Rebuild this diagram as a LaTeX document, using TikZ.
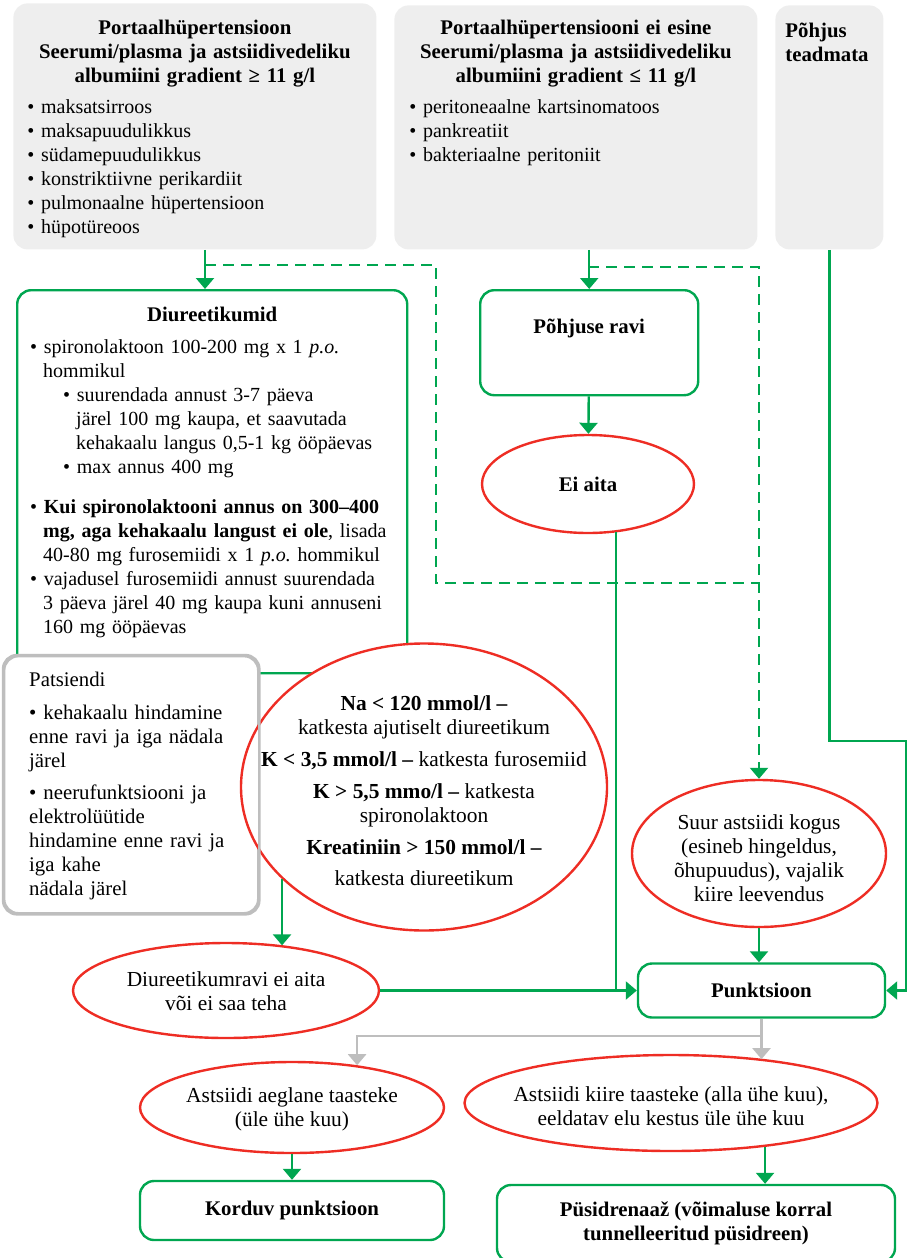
\documentclass[tikz,border=0pt]{standalone}
\usepackage{fontspec}
\setmainfont{Liberation Serif}
\usetikzlibrary{arrows.meta,shapes.geometric}
\frenchspacing

\definecolor{flowgreen}{HTML}{00A650}
\definecolor{flowred}{HTML}{EE2D24}
\definecolor{causefill}{HTML}{EEEEEE}
\definecolor{framegrey}{HTML}{BEBEBE}

\newcommand{\headfont}{\fontsize{10.4}{12}\selectfont\bfseries}
\newcommand{\bitem}[2][0pt]{\par\hangindent=\dimexpr#1+6.5pt\relax\hangafter=1 %
  \noindent\hspace*{#1}•\ #2\par}

\tikzset{
  every node/.style={font=\fontsize{10}{12}\selectfont},
  boldtext/.style={font=\headfont},
  cause/.style={fill=causefill, rounded corners=7pt, anchor=north west,
    align=left, inner ysep=0pt},
  advice/.style={draw=flowgreen, line width=1.2pt, rounded corners=7pt,
    fill=white},
  monitorbox/.style={draw=framegrey, line width=1.2pt, rounded corners=7pt,
    fill=white, anchor=north west, align=left, inner ysep=0pt,
    font=\fontsize{10.4}{12}\selectfont},
  warn/.style={ellipse, draw=flowred, line width=1.2pt, fill=white,
    inner sep=0pt},
  warntext/.style={align=center, inner sep=0pt,
    font=\fontsize{10.7}{12}\selectfont},
  flow/.style={draw=flowgreen, line width=1.2pt},
  arr/.style={flow, -{Triangle[width=9pt,length=5.5pt]}},
  dashflow/.style={flow, dash pattern=on 5.5pt off 3.5pt},
  greyarr/.style={draw=framegrey, line width=1.2pt,
    -{Triangle[width=9pt,length=5.5pt]}},
}

\begin{document}
\begin{tikzpicture}[x=0.5pt, y=-0.5pt]

  \useasboundingbox (0,0) rectangle (908,1258); %

  % Causes of ascites
  \node[cause, text width=167.5pt, inner xsep=7pt, text height=15.3pt,
    text depth=107.7pt] (portal) at (13,3) {%
    {\centering\headfont Portaalhüpertensioon\\
      Seerumi/plasma ja astsiidivedeliku\\
      albumiini gradient ≥ 11 g/l\par}\vspace{3.5pt}%
    • maksatsirroos\\ • maksapuudulikkus\\ • südamepuudulikkus\\
    • konstriktiivne perikardiit\\ • pulmonaalne hüpertensioon\\
    • hüpotüreoos}; %
  \node[cause, text width=166.5pt, inner xsep=7.5pt, text height=14.3pt,
    text depth=107.7pt] (noportal) at (394,5) {%
    {\centering\headfont Portaalhüpertensiooni ei esine\\
      Seerumi/plasma ja astsiidivedeliku\\
      albumiini gradient ≤ 11 g/l\par}\vspace{3.5pt}%
    • peritoneaalne kartsinomatoos\\ • pankreatiit\\
    • bakteriaalne peritoniit}; %
  \node[cause, text width=44pt, inner xsep=5pt, text height=16pt,
    text depth=106pt] (unknown) at (775,5) {\headfont Põhjus\\ teadmata}; %

  % Treatment
  \node[advice, anchor=north west, align=left, text width=182pt,
    inner xsep=6.5pt, inner ysep=0pt, text height=15.5pt, text depth=176pt]
    (diur) at (16,289) {%
    {\centering\headfont Diureetikumid\par}\vspace{4pt}%
    \bitem{spironolaktoon 100-200 mg x 1 \textit{p.o.}\newline hommikul}
    \bitem[16.5pt]{suurendada annust 3-7 päeva\newline
      järel 100 mg kaupa, et saavutada\newline
      kehakaalu langus 0,5-1 kg ööpäevas}
    \bitem[16.5pt]{max annus 400 mg}
    \vspace{8pt}%
    \bitem{\textbf{Kui spironolaktooni annus on 300–400\newline
      mg, aga kehakaalu langust ei ole}, lisada\newline
      40-80 mg furosemiidi x 1 \textit{p.o.} hommikul}
    \bitem{vajadusel furosemiidi annust suurendada\newline
      3 päeva järel 40 mg kaupa kuni annuseni\newline
      160 mg ööpäevas}}; %
  \node[advice, boldtext, anchor=north west, minimum width=109pt,
    inner sep=0pt, text height=21.5pt, text depth=31pt]
    (treat) at (479,289) {Põhjuse ravi}; %
  \node[warn, minimum width=106pt, minimum height=49pt,
    label={[warntext, boldtext]center:{Ei aita}}] (noeffect) at (588,484) {}; %

  % Monitoring and limits
  \node[monitorbox, text width=102pt, inner xsep=12.5pt, text height=15pt,
    text depth=113.5pt] (monitor) at (3,655) {%
    Patsiendi\par\vspace{4.5pt}%
    • kehakaalu hindamine\\ enne ravi ja iga nädala\\ järel\par\vspace{4pt}%
    • neerufunktsiooni ja\\ elektrolüütide\\ hindamine enne ravi ja\\
    iga kahe\\ nädala järel}; %
  \node[warn, minimum width=183pt, minimum height=143.5pt,
    label={[warntext, yshift=-2pt]center:{%
      \textbf{Na < 120 mmol/l –}\\ katkesta ajutiselt diureetikum\\[4pt]
      \textbf{K < 3,5 mmol/l –} katkesta furosemiid\\[4pt]
      \textbf{K > 5,5 mmo/l –} katkesta\\ spironolaktoon\\[4pt]
      \textbf{Kreatiniin > 150 mmol/l –}\\[3.5pt] katkesta diureetikum}}]
    (limits) at (424,787) {}; %
  \draw[draw=framegrey, line width=1.2pt, rounded corners=7pt]
    (monitor.north west) rectangle (monitor.south east); %

  % Paracentesis
  \node[warn, minimum width=127pt, minimum height=73.5pt,
    label={[warntext, yshift=-2.5pt]center:{Suur astsiidi kogus\\
      (esineb hingeldus,\\ õhupuudus), vajalik\\ kiire leevendus}}]
    (large) at (759,853.5) {}; %
  \node[warn, minimum width=153pt, minimum height=47.5pt,
    label={[warntext, yshift=-0.5pt]center:{Diureetikumravi ei aita\\
      või ei saa teha}}]
    (drfail) at (226,990.5) {}; %
  \node[advice, boldtext, minimum width=123.5pt, minimum height=27pt]
    (punct) at (761.5,990.5) {Punktsioon}; %

  % Outcome
  \node[warn, minimum width=152pt, minimum height=45.5pt,
    label={[warntext, yshift=-1pt]center:{Astsiidi aeglane taasteke\\
      (üle ühe kuu)}}]
    (slow) at (292,1107.5) {}; %
  \node[warn, minimum width=206.5pt, minimum height=48pt,
    label={[warntext, yshift=-1.5pt]center:{Astsiidi kiire taasteke (alla ühe kuu),\\
      eeldatav elu kestus üle ühe kuu}}]
    (fast) at (671,1103) {}; %
  \node[advice, boldtext, minimum width=152pt, minimum height=29.5pt]
    (redo) at (292,1210.5) {Korduv punktsioon}; %
  \node[advice, boldtext, minimum width=199pt, minimum height=38.5pt,
    align=center] (drain) at (696,1223.5)
    {Püsidrenaaž (võimaluse korral\\ tunnelleeritud püsidreen)}; %

  % Connections
  \coordinate (j1) at (205,265); %
  \coordinate (j2) at (588,267); %
  \coordinate (dcorner) at (436,583); %
  \coordinate (rbend) at (906,741); %

  \draw[arr] (portal.south -| j1) -- (j1 |- diur.north); %
  \draw[arr] (noportal.south -| treat.north) -- (treat.north); %
  \draw[dashflow] (j1) -| (dcorner) -- (dcorner -| large.north); %
  \draw[dashflow, -{Triangle[width=9pt,length=5.5pt]}] (j2) -| (large.north); %
  \draw[arr] (treat) -- (noeffect); %
  \draw[flow] (noeffect.300) -- (noeffect.300 |- punct.west); %
  \draw[arr] (unknown.south) |- (rbend) |- (punct.east); %
  \draw[arr] (large.south) -- (large.south |- punct.north); %
  \draw[arr] (limits.213) -- (limits.213 |- drfail.38); %
  \draw[arr] (drfail.east) -- (punct.west); %
  \draw[greyarr] (punct.south) -- ++(0,17) -| (slow.33); %
  \draw[greyarr] (punct.south) -- (punct.south |- fast.25); %
  \draw[arr] (slow) -- (redo); %
  \draw[arr] (fast.335) -- (fast.335 |- drain.north); %

\end{tikzpicture}
\end{document}
